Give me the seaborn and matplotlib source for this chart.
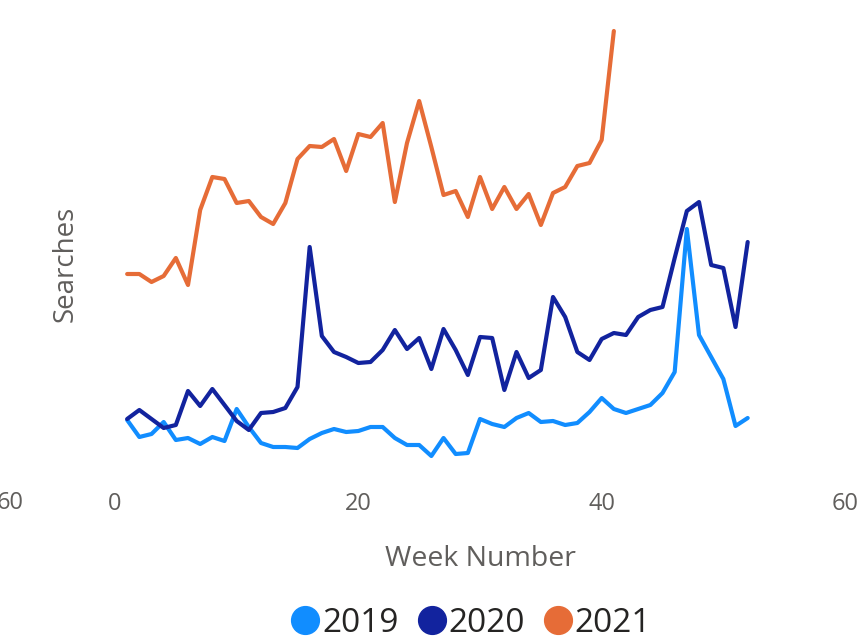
import numpy as np
import pandas as pd
import seaborn as sns
import matplotlib.pyplot as plt
from matplotlib.lines import Line2D

# weekly searches per year
searches_2019 = [50, 33, 36, 48, 30, 32, 26, 33, 29, 61, 43, 27, 23, 23, 22, 31, 37, 41, 38, 39,
                 43, 43, 32, 25, 25, 14, 32, 16, 17, 51, 46, 43, 52, 57, 48, 49, 45, 47, 58, 72,
                 61, 57, 61, 65, 77, 98, 241, 135, 113, 91, 44, 52]
searches_2020 = [51, 60, 51, 42, 45, 79, 64, 81, 65, 49, 40, 57, 58, 62, 83, 223, 134, 118, 113, 107,
                 108, 120, 140, 121, 132, 101, 141, 120, 95, 133, 132, 80, 118, 92, 100, 173, 153, 118, 110, 131,
                 137, 135, 153, 160, 163, 212, 259, 268, 205, 202, 143, 228]
searches_2021 = [196, 196, 188, 194, 212, 185, 260, 293, 291, 267, 269, 253, 246, 267, 311, 324, 323, 331, 299, 336,
                 333, 347, 268, 327, 369, 323, 275, 279, 253, 293, 261, 283, 261, 276, 245, 277, 283, 304, 307, 330,
                 439]
years = ['2019', '2020', '2021']
colors = ['#118DFF', '#12239E', '#E66C37']
x_ticks = [0, 20, 40, 60]

frames = []
for yr, vals in zip(years, [searches_2019, searches_2020, searches_2021]):
    frames.append(pd.DataFrame({'week': np.arange(1, len(vals) + 1), 'searches': vals, 'year': yr}))
df = pd.concat(frames)

sns.set_theme(style="white")
plt.rcParams['font.family'] = ['Open Sans', 'DejaVu Sans']

fig = plt.figure(figsize=(8.64, 6.39), dpi=100)
W, H = 864, 639
ax = fig.add_axes([100 / W, 1 - 470 / H, 764 / W, 450 / H])

sns.lineplot(data=df, x='week', y='searches', hue='year', palette=colors,
             lw=3, ax=ax, legend=False)

ax.set_xlim((100 - 115) / 12.167, (864 - 115) / 12.167)
ax.set_ylim(0, 450)
ax.set_xticks(x_ticks)
ax.set_yticks([])
for s in ax.spines.values():
    s.set_visible(False)
ax.tick_params(axis='x', length=0, pad=16, labelsize=17, labelcolor='#605E5C')

ax.set_xlabel('Week Number', fontsize=20.5, color='#605E5C')
ax.xaxis.set_label_coords((480 - 100) / 764, (470 - 545) / 450)
ax.set_ylabel('Searches', fontsize=20, color='#605E5C')
ax.yaxis.set_label_coords((80 - 100) / 764, (470 - 264) / 450)

# clipped tick label at the far left
fig.text(24 / W, 1 - 503 / H, '60', ha='right', va='center', fontsize=17, color='#605E5C')

handles = [Line2D([], [], ls='', marker='o', markersize=20, color=c) for c in colors]
fig.legend(handles, years, loc='center', bbox_to_anchor=(470 / W, 1 - 623 / H), ncol=3,
           frameon=False, fontsize=24, handletextpad=0.0, columnspacing=0.5,
           handlelength=1.0, labelcolor='#252423')

fig.savefig('out.png', dpi=100)
